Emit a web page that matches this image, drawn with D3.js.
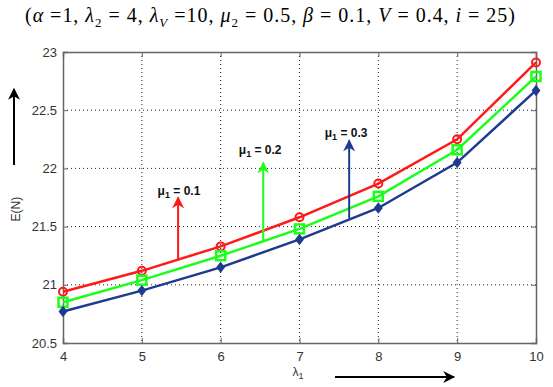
<!DOCTYPE html>
<html>
<head>
<meta charset="utf-8">
<script src="https://cdn.jsdelivr.net/npm/d3@7"></script>
<style>
  body { margin: 0; background: #fff; }
  svg { display: block; font-family: Arial, "Liberation Sans", sans-serif; }
</style>
</head>
<body>
<div id="chart"></div>
<script>
// x values (lambda_1)
const lambda1 = [4, 5, 6, 7, 8, 9, 10];
// E(N) for each mu_1
const mu01 = [20.94, 21.12, 21.33, 21.58, 21.87, 22.25, 22.91];
const mu02 = [20.85, 21.04, 21.25, 21.48, 21.76, 22.16, 22.79];
const mu03 = [20.77, 20.95, 21.15, 21.39, 21.66, 22.05, 22.67];
const xTicks = [4, 5, 6, 7, 8, 9, 10];
const yTicks = [20.5, 21, 21.5, 22, 22.5, 23];

// annotation arrows, in data units
const notes = [
  { label: '0.1', color: '#ff1a1a', x: 5.46, y0: 21.22, y1: 21.75, lx: 5.2, ly: 21.81 },
  { label: '0.2', color: '#1aff1a', x: 6.54, y0: 21.385, y1: 22.05, lx: 6.23, ly: 22.16 },
  { label: '0.3', color: '#1f3b8f', x: 7.63, y0: 21.57, y1: 22.24, lx: 7.32, ly: 22.31 }
];

const width = 553, height = 387;
const margin = { top: 52, right: 17, bottom: 44, left: 63 };

const svg = d3.select('#chart').append('svg')
  .attr('width', width).attr('height', height);

const x = d3.scaleLinear().domain([4, 10]).range([margin.left, width - margin.right]);
const y = d3.scaleLinear().domain([20.5, 23]).range([height - margin.bottom, margin.top]);

const defs = svg.append('defs');
function arrowHead(id, color, w, h) {
  defs.append('marker')
    .attr('id', id).attr('viewBox', '0 0 10 10')
    .attr('refX', 9).attr('refY', 5)
    .attr('markerWidth', w).attr('markerHeight', h)
    .attr('markerUnits', 'userSpaceOnUse')
    .attr('orient', 'auto')
    .append('path').attr('d', 'M0,0 L10,5 L0,10 L3,5 Z').attr('fill', color);
}
notes.forEach((n, i) => arrowHead('ah' + i, n.color, 14, 12));
arrowHead('ahk', '#000', 16, 12);

// grid
const grid = svg.append('g').attr('stroke', '#222').attr('stroke-dasharray', '1,3').attr('stroke-width', 1);
grid.selectAll('.gx').data(xTicks.slice(1, -1)).join('line')
  .attr('x1', d => x(d)).attr('x2', d => x(d))
  .attr('y1', margin.top).attr('y2', height - margin.bottom);
grid.selectAll('.gy').data(yTicks.slice(1, -1)).join('line')
  .attr('y1', d => y(d)).attr('y2', d => y(d))
  .attr('x1', margin.left).attr('x2', width - margin.right);

// axes
const xAxis = svg.append('g')
  .attr('transform', `translate(0,${height - margin.bottom})`)
  .call(d3.axisBottom(x).tickValues(xTicks).tickSize(-5).tickPadding(9).tickFormat(d3.format('d')));
const xAxisTop = svg.append('g')
  .attr('transform', `translate(0,${margin.top})`)
  .call(d3.axisTop(x).tickValues(xTicks).tickSize(-5).tickFormat(''));
const yAxis = svg.append('g')
  .attr('transform', `translate(${margin.left},0)`)
  .call(d3.axisLeft(y).tickValues(yTicks).tickSize(-5).tickPadding(6).tickFormat(d => d));
const yAxisRight = svg.append('g')
  .attr('transform', `translate(${width - margin.right},0)`)
  .call(d3.axisRight(y).tickValues(yTicks).tickSize(-5).tickFormat(''));
[xAxis, xAxisTop, yAxis, yAxisRight].forEach(a => {
  a.select('.domain').attr('stroke', '#666').attr('stroke-width', 1.5);
  a.selectAll('.tick line').attr('stroke', '#666');
  a.selectAll('text').attr('font-size', 13).attr('fill', '#333')
    .attr('font-family', 'Arial, "Liberation Sans", sans-serif');
});

// series
const series = [
  { values: mu01, color: '#ff1a1a', marker: 'circle' },
  { values: mu02, color: '#1aff1a', marker: 'square' },
  { values: mu03, color: '#1f3b8f', marker: 'diamond' }
];
const line = d3.line().x(d => x(d[0])).y(d => y(d[1]));
series.forEach(s => {
  const pts = lambda1.map((v, i) => [v, s.values[i]]);
  svg.append('path').datum(pts)
    .attr('d', line).attr('fill', 'none')
    .attr('stroke', s.color).attr('stroke-width', 2.5);
  const g = svg.append('g');
  if (s.marker === 'circle') {
    g.selectAll('circle').data(pts).join('circle')
      .attr('cx', d => x(d[0])).attr('cy', d => y(d[1])).attr('r', 4)
      .attr('fill', 'none').attr('stroke', s.color).attr('stroke-width', 2);
  } else if (s.marker === 'square') {
    g.selectAll('rect').data(pts).join('rect')
      .attr('x', d => x(d[0]) - 4.5).attr('y', d => y(d[1]) - 4.5)
      .attr('width', 9).attr('height', 9)
      .attr('fill', 'none').attr('stroke', s.color).attr('stroke-width', 2.5);
  } else {
    g.selectAll('path').data(pts).join('path')
      .attr('transform', d => `translate(${x(d[0])},${y(d[1])})`)
      .attr('d', 'M0,-4.5 L3.5,0 L0,4.5 L-3.5,0 Z')
      .attr('fill', s.color).attr('stroke', s.color).attr('stroke-width', 1.5);
  }
});

// annotations
notes.forEach((n, i) => {
  svg.append('line')
    .attr('x1', x(n.x)).attr('x2', x(n.x))
    .attr('y1', y(n.y0)).attr('y2', y(n.y1))
    .attr('stroke', n.color).attr('stroke-width', 2)
    .attr('marker-end', `url(#ah${i})`);
  const t = svg.append('text')
    .attr('x', x(n.lx)).attr('y', y(n.ly)).attr('dy', '0.35em')
    .attr('font-size', 12).attr('font-weight', 'bold').attr('fill', '#111');
  t.append('tspan').text('\u03bc');
  t.append('tspan').attr('font-size', 9).attr('dy', 3).text('1');
  t.append('tspan').attr('dy', -3).text(' = ' + n.label);
});

// title
const title = svg.append('text')
  .attr('x', 25).attr('y', 22)
  .attr('textLength', 490).attr('lengthAdjust', 'spacing')
  .attr('font-family', '"Liberation Serif", "Times New Roman", serif')
  .attr('font-size', 20).attr('fill', '#000');
const parts = [
  ['(', 0], ['\u03b1', 1], [' =1, ', 0], ['\u03bb', 1], ['2', 2], [' = 4, ', 0],
  ['\u03bb', 1], ['V', 3], [' =10, ', 0], ['\u03bc', 1], ['2', 2], [' = 0.5, ', 0],
  ['\u03b2', 1], [' = 0.1, ', 0], ['V', 1], [' = 0.4, ', 0], ['i', 1], [' = 25)', 0]
];
let sub = false;
parts.forEach(([txt, kind]) => {
  const ts = title.append('tspan').text(txt);
  if (kind === 1) ts.attr('font-style', 'italic');
  if (kind === 2 || kind === 3) {
    ts.attr('font-size', 13).attr('dy', 5);
    if (kind === 3) ts.attr('font-style', 'italic');
    sub = true;
  } else if (sub) {
    ts.attr('dy', -5);
    sub = false;
  }
});

// axis labels
svg.append('text')
  .attr('transform', `translate(20,${y(21.65)}) rotate(-90)`)
  .attr('text-anchor', 'middle').attr('font-size', 12).attr('fill', '#333')
  .text('E(N)');
svg.append('line')
  .attr('x1', 14).attr('x2', 14).attr('y1', 165).attr('y2', 89)
  .attr('stroke', '#000').attr('stroke-width', 2).attr('marker-end', 'url(#ahk)');

const xl = svg.append('text')
  .attr('x', 298).attr('y', 376).attr('text-anchor', 'middle')
  .attr('font-size', 12).attr('fill', '#333');
xl.append('tspan').text('\u03bb');
xl.append('tspan').attr('font-size', 9).attr('dy', 3).text('1');
svg.append('line')
  .attr('x1', 335).attr('x2', 454).attr('y1', 377).attr('y2', 377)
  .attr('stroke', '#000').attr('stroke-width', 2).attr('marker-end', 'url(#ahk)');
</script>
</body>
</html>
